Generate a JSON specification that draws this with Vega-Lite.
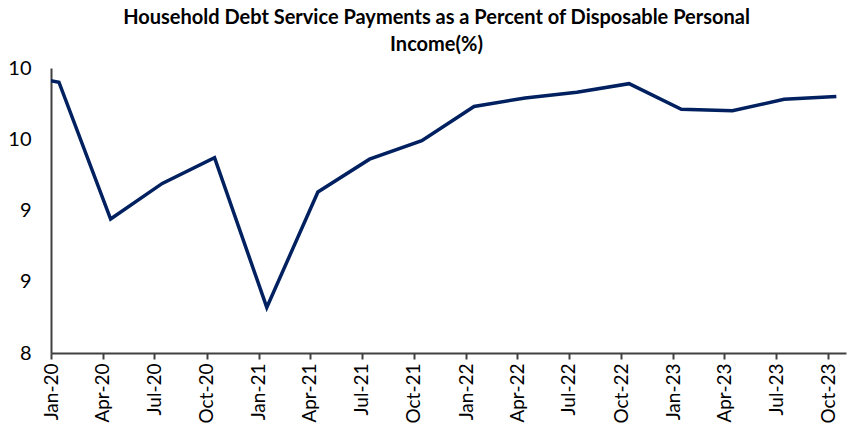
{
  "$schema": "https://vega.github.io/schema/vega-lite/v6.json",
  "width": 795,
  "height": 285,
  "autosize": {"type": "none"},
  "padding": {"left": 51, "top": 68, "right": 2, "bottom": 73},
  "background": "white",
  "title": {
    "text": ["Household Debt Service Payments as a Percent of Disposable Personal", "Income(%)"],
    "font": "Lato",
    "fontSize": 20,
    "fontWeight": "bold",
    "color": "#000000",
    "lineHeight": 27,
    "anchor": "middle",
    "frame": "group",
    "dx": -12,
    "offset": 3
  },
  "data": {
    "values": [
      {"date": "2019-10-15", "value": 9.97},
      {"date": "2020-01-15", "value": 9.90},
      {"date": "2020-04-15", "value": 8.94},
      {"date": "2020-07-15", "value": 9.19},
      {"date": "2020-10-15", "value": 9.37},
      {"date": "2021-01-15", "value": 8.32},
      {"date": "2021-04-15", "value": 9.13},
      {"date": "2021-07-15", "value": 9.36},
      {"date": "2021-10-15", "value": 9.49},
      {"date": "2022-01-15", "value": 9.73},
      {"date": "2022-04-15", "value": 9.79},
      {"date": "2022-07-15", "value": 9.83},
      {"date": "2022-10-15", "value": 9.89},
      {"date": "2023-01-15", "value": 9.71},
      {"date": "2023-04-15", "value": 9.70},
      {"date": "2023-07-15", "value": 9.78},
      {"date": "2023-10-15", "value": 9.80}
    ]
  },
  "mark": {"type": "line", "color": "#002060", "strokeWidth": 3.5, "clip": true, "strokeJoin": "miter"},
  "encoding": {
    "x": {
      "field": "date",
      "type": "temporal",
      "scale": {"domain": ["2020-01-01T00:00:00", "2023-11-01T00:00:00"]},
      "axis": {
        "title": null,
        "values": ["2020-01-01T00:00:00", "2020-04-01T00:00:00", "2020-07-01T00:00:00", "2020-10-01T00:00:00", "2021-01-01T00:00:00", "2021-04-01T00:00:00", "2021-07-01T00:00:00", "2021-10-01T00:00:00", "2022-01-01T00:00:00", "2022-04-01T00:00:00", "2022-07-01T00:00:00", "2022-10-01T00:00:00", "2023-01-01T00:00:00", "2023-04-01T00:00:00", "2023-07-01T00:00:00", "2023-10-01T00:00:00"],
        "format": "%b-%y",
        "labelAngle": -90,
        "labelAlign": "right",
        "labelBaseline": "middle",
        "labelFont": "Lato",
        "labelFontSize": 19,
        "labelColor": "#000000",
        "labelPadding": 4,
        "labelFlush": false,
        "labelOverlap": false,
        "grid": false,
        "domainColor": "#404040",
        "domainWidth": 2,
        "tickColor": "#404040",
        "tickWidth": 2,
        "tickSize": 6
      }
    },
    "y": {
      "field": "value",
      "type": "quantitative",
      "scale": {"domain": [8, 10], "zero": false, "nice": false},
      "axis": {
        "title": null,
        "values": [8, 8.5, 9, 9.5, 10],
        "format": ".0f",
        "labelFont": "Lato",
        "labelFontSize": 20,
        "labelColor": "#000000",
        "labelPadding": 20,
        "ticks": false,
        "tickSize": 0,
        "grid": false,
        "domainColor": "#404040",
        "domainWidth": 2
      }
    }
  },
  "config": {"view": {"stroke": null}}
}
